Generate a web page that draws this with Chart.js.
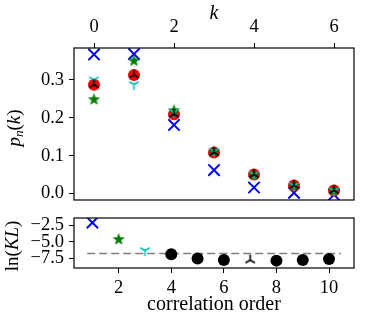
<!DOCTYPE html>
<html>
<head>
<meta charset="utf-8">
<script src="https://cdn.jsdelivr.net/npm/chart.js@4.4.1/dist/chart.umd.min.js"></script>
<style>
  body { margin: 0; background: #fff; }
  #wrap { position: relative; width: 373px; height: 315px; }
  canvas { position: absolute; left: 0; }
  #top-chart { top: 0; }
  #kl-chart { top: 208px; }
</style>
</head>
<body>
<div id="wrap">
  <canvas id="top-chart" width="373" height="210"></canvas>
  <canvas id="kl-chart" width="373" height="107"></canvas>
</div>
<script>
// ---------- data (top panel: p_n(k))
const kValues = [0, 1, 2, 3, 4, 5, 6];
const kTicks = [0, 2, 4, 6];
const pTicks = [0.0, 0.1, 0.2, 0.3];

const pRed = [0.287, 0.313, 0.209, 0.108, 0.050, 0.021, 0.008];
const pBlack = [0.287, 0.313, 0.209, 0.108, 0.050, 0.021, 0.008];
const pGreen = [0.248, 0.350, 0.219, 0.110, 0.049, 0.021, 0.008];
const pCyan = [0.300, 0.288, 0.215, 0.112, 0.051, 0.021, 0.008];
const pBlue = [0.367, 0.368, 0.181, 0.062, 0.016, 0.002, -0.003];

// ---------- data (bottom panel: ln(KL) vs correlation order)
const orderTicks = [2, 4, 6, 8, 10];
const klTicks = [-2.5, -5.0, -7.5];

const orderBlue = [1];
const klBlue = [-2.11];
const orderGreen = [2];
const klGreen = [-4.66];
const orderCyan = [3];
const klCyan = [-6.34];
const orderCircles = [4, 5, 6, 8, 9, 10];
const klCircles = [-6.92, -7.55, -7.79, -7.88, -7.79, -7.64];
const orderTri = [7];
const klTri = [-7.8];
const refLineX = [0.8, 10.45];
const refLineY = [-6.78, -6.78];

// ---------- colours / fonts
const RED = '#ff0000';
const GREEN = '#008000';
const BLUE = '#0000ff';
const CYAN = '#00bfbf';
const FAMILY = "'Liberation Serif', serif";
const tickFont = { family: FAMILY, size: 18.5 };

// ---------- custom markers
function makeMarker(kind, color, r) {
    const c = document.createElement('canvas');
    const s = Math.ceil(r * 2 + 4);
    c.width = s; c.height = s;
    const g = c.getContext('2d');
    g.translate(s / 2, s / 2);
    g.strokeStyle = color;
    g.fillStyle = color;
    if (kind === 'star') {
        g.beginPath();
        for (let i = 0; i < 10; i++) {
            const rad = i % 2 === 0 ? r : r * 0.42;
            const a = -Math.PI / 2 + i * Math.PI / 5;
            const px = Math.cos(a) * rad, py = Math.sin(a) * rad;
            if (i === 0) g.moveTo(px, py); else g.lineTo(px, py);
        }
        g.closePath();
        g.fill();
    } else {
        // tri_down = arms down + up-left + up-right, tri_up = arms up + down-left + down-right
        const sign = kind === 'triDown' ? 1 : -1;
        g.lineWidth = 1.6;
        g.lineCap = 'butt';
        g.beginPath();
        g.moveTo(0, 0); g.lineTo(0, sign * r);
        g.moveTo(0, 0); g.lineTo(-r * 0.866, -sign * r * 0.5);
        g.moveTo(0, 0); g.lineTo(r * 0.866, -sign * r * 0.5);
        g.stroke();
    }
    return c;
}

const starMarker = makeMarker('star', GREEN, 6.5);
const cyanTri = makeMarker('triDown', CYAN, 5.5);
const blackTri = makeMarker('triUp', '#000', 5.5);

function pts(xs, ys) {
    return xs.map((x, i) => ({ x: x, y: ys[i] }));
}

// ---------- plugins
const frame = {
    id: 'frame',
    afterDraw(chart) {
        const { ctx, chartArea: a } = chart;
        ctx.save();
        ctx.strokeStyle = '#000';
        ctx.lineWidth = 1.2;
        ctx.strokeRect(a.left, a.top, a.right - a.left, a.bottom - a.top);
        ctx.restore();
    }
};

// rotated y label made of pieces (italic / upright / subscript)
function drawYLabel(ctx, pieces, cx, cy, size) {
    ctx.save();
    ctx.translate(cx, cy);
    ctx.rotate(-Math.PI / 2);
    ctx.fillStyle = '#000';
    ctx.textBaseline = 'middle';
    ctx.textAlign = 'left';
    let total = 0;
    pieces.forEach(p => {
        const fs = p.sub ? size * 0.7 : size;
        ctx.font = (p.italic ? 'italic ' : '') + fs + 'px ' + FAMILY;
        p.w = ctx.measureText(p.t).width;
        total += p.w;
    });
    let x = -total / 2;
    pieces.forEach(p => {
        const fs = p.sub ? size * 0.7 : size;
        ctx.font = (p.italic ? 'italic ' : '') + fs + 'px ' + FAMILY;
        ctx.fillText(p.t, x, p.sub ? size * 0.25 : 0);
        x += p.w;
    });
    ctx.restore();
}

const yLabel = {
    id: 'yLabel',
    afterDraw(chart, args, opts) {
        drawYLabel(chart.ctx, opts.pieces, opts.x, opts.y, 19);
    }
};

function fixedTicks(values) {
    return function (scale) {
        scale.ticks = values.map(v => ({ value: v }));
    };
}

// fixed axis size, no extra room for overflowing tick labels
function fixWidth(w) {
    return s => { s.width = w; s.paddingTop = 0; s.paddingBottom = 0; };
}
function fixHeight(h) {
    return s => { s.height = h; s.paddingLeft = 0; s.paddingRight = 0; };
}

const tickGrid = { drawOnChartArea: false, drawTicks: true, tickLength: 5, color: '#000', lineWidth: 1 };

// ---------- top chart
var topChart = new Chart(document.getElementById('top-chart'), {
    type: 'scatter',
    data: {
        datasets: [
            { data: pts(kValues, pBlack), pointStyle: blackTri, pointRadius: 6 },
            { data: pts(kValues, pCyan), pointStyle: cyanTri, pointRadius: 6 },
            { data: pts(kValues, pGreen), pointStyle: starMarker, pointRadius: 6 },
            { data: pts(kValues, pRed), pointStyle: 'circle', pointRadius: 6, backgroundColor: RED, borderColor: RED, borderWidth: 0 },
            { data: pts(kValues, pBlue), pointStyle: 'crossRot', pointRadius: 8, borderColor: BLUE, borderWidth: 2 }
        ]
    },
    options: {
        responsive: false,
        animation: false,
        events: [],
        layout: { padding: { left: 0, right: 19, top: 0, bottom: 6 } },
        plugins: {
            legend: { display: false },
            tooltip: { enabled: false },
            yLabel: { x: 15, y: 128, pieces: [
                { t: 'p', italic: true }, { t: 'n', italic: true, sub: true },
                { t: '(' }, { t: 'k', italic: true }, { t: ')' }
            ] }
        },
        scales: {
            x: {
                type: 'linear', position: 'top', min: -0.5, max: 6.5,
                afterBuildTicks: fixedTicks(kTicks),
                afterFit: fixHeight(48),
                grid: tickGrid,
                border: { display: false },
                ticks: { font: tickFont, color: '#000', padding: 5, maxRotation: 0, autoSkip: false },
                title: { display: true, text: 'k', color: '#000', font: { family: FAMILY, size: 20, style: 'italic' }, padding: { top: 2, bottom: 0 } }
            },
            y: {
                type: 'linear', min: -0.017, max: 0.384,
                afterBuildTicks: fixedTicks(pTicks),
                afterFit: fixWidth(74),
                grid: tickGrid,
                border: { display: false },
                ticks: { font: tickFont, color: '#000', padding: 5, autoSkip: false, callback: v => v.toFixed(1) }
            }
        }
    },
    plugins: [frame, yLabel]
});

// ---------- bottom chart
var klChart = new Chart(document.getElementById('kl-chart'), {
    type: 'scatter',
    data: {
        datasets: [
            { data: pts(orderTri, klTri), pointStyle: blackTri, pointRadius: 6 },
            { data: pts(orderCyan, klCyan), pointStyle: cyanTri, pointRadius: 6 },
            { data: pts(orderGreen, klGreen), pointStyle: starMarker, pointRadius: 6 },
            { data: pts(orderBlue, klBlue), pointStyle: 'crossRot', pointRadius: 8, borderColor: BLUE, borderWidth: 2 },
            { data: pts(orderCircles, klCircles), pointStyle: 'circle', pointRadius: 6, backgroundColor: '#000', borderColor: '#000', borderWidth: 0 },
            { data: pts(refLineX, refLineY), showLine: true, pointRadius: 0, borderColor: '#808080', borderWidth: 1.5, borderDash: [8, 4] }
        ]
    },
    options: {
        responsive: false,
        animation: false,
        events: [],
        layout: { padding: { left: 0, right: 19, top: 7, bottom: 0 } },
        plugins: {
            legend: { display: false },
            tooltip: { enabled: false },
            yLabel: { x: 13, y: 38, pieces: [
                { t: 'ln(' }, { t: 'KL', italic: true }, { t: ')' }
            ] }
        },
        scales: {
            x: {
                type: 'linear', min: 0.3, max: 10.95,
                afterBuildTicks: fixedTicks(orderTicks),
                afterFit: fixHeight(47),
                grid: tickGrid,
                border: { display: false },
                ticks: { font: tickFont, color: '#000', padding: 4, maxRotation: 0, autoSkip: false },
                title: { display: true, text: 'correlation order', color: '#000', font: { family: FAMILY, size: 20, lineHeight: 1.0 }, padding: { top: 0, bottom: 0 } }
            },
            y: {
                type: 'linear', min: -9.0, max: -1.4,
                afterBuildTicks: fixedTicks(klTicks),
                afterFit: fixWidth(74),
                grid: tickGrid,
                border: { display: false },
                ticks: { font: tickFont, color: '#000', padding: 5, autoSkip: false, callback: v => (v < 0 ? '\u2212' : '') + Math.abs(v).toFixed(1) }
            }
        }
    },
    plugins: [frame, yLabel]
});
</script>
</body>
</html>
